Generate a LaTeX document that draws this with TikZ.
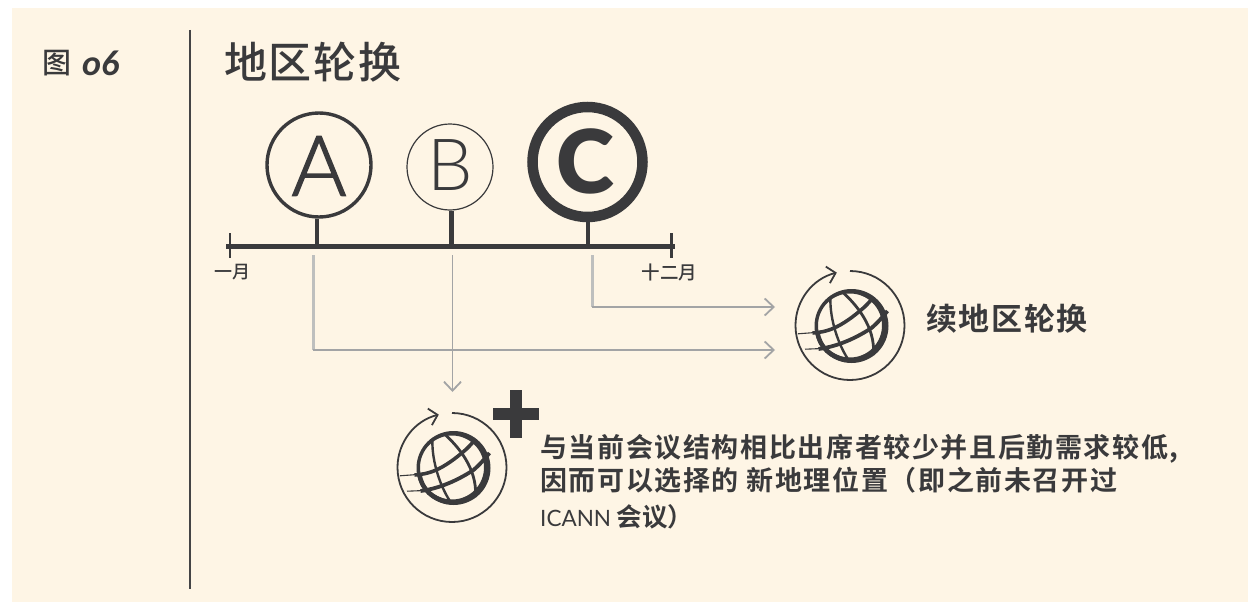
\documentclass[tikz,border=0pt]{standalone}
\usepackage{fontspec}
\usetikzlibrary{arrows.meta}
\setmainfont{Lato}
\newfontfamily\cjkM{Noto Sans CJK SC Bold}
\newfontfamily\cjkL{Noto Sans CJK SC Medium}
\newfontfamily\cjkT[LetterSpace=4]{Noto Sans CJK SC Medium}
\newfontfamily\cjkB[LetterSpace=6]{Noto Sans CJK SC Bold}
\newfontfamily\cjkC[LetterSpace=5.5]{Noto Sans CJK SC Bold}
\newfontfamily\latoL[FakeBold=1.6]{Lato Light}
\newfontfamily\latoH{Lato Light}
\newfontfamily\latoK{Lato Black}
\newfontfamily\figI[ItalicFont=*-Italic]{Carlito}
\definecolor{bgcream}{HTML}{FEF5E5}
\definecolor{ink}{HTML}{3A3A3C}
\definecolor{rule}{HTML}{444446}
\definecolor{pale}{HTML}{BEBFBE}
\definecolor{midg}{HTML}{A3A4A5}
\tikzset{
  lettercircle/.style={circle,draw=ink,inner sep=0pt,text=ink},
  stemline/.style={draw=ink,line cap=butt},
  chev/.style={-{Straight Barb[length=9pt,width=17pt,line width=1.8pt]}},
  bodytext/.style={anchor=west,inner sep=0pt,text=ink,font=\cjkB\fontsize{27}{27}\selectfont},
  globeicon/.pic={
    \draw[ink,line width=1.8pt,-{Straight Barb[length=8pt,width=17pt,line width=1.8pt]}]
      (0pt,-54pt) arc[start angle=-90,end angle=256,radius=54.5pt];
    \begin{scope}[shift={(1.5,1)}]
      \fill[ink,even odd rule] (0,0) circle[radius=37pt] (-1.5,-0.5) circle[radius=32pt];
      \draw[ink,line width=4.5pt] (-34,6) .. controls (-32,22) and (-20,31) .. (-6,34);
      \draw[ink,line width=3.6pt] (-39,7) .. controls (-25,6) and (-12,3) .. (13,-19) .. controls (16,-22) and (19,-25) .. (22,-29);
      \draw[ink,line width=3.8pt] (-33,23) .. controls (-18,21) and (0,15) .. (20,2) .. controls (26,-3) and (31,-9) .. (36,-15);
      \draw[ink,line width=2.4pt] (-21,-29) .. controls (-22,-12) and (-16,14) .. (-3,34);
      \draw[ink,line width=2.8pt] (-9,-34) .. controls (4,-22) and (24,0) .. (22,29);
    \end{scope}
    \draw[ink,line width=1.1pt] (-52,8.8) -- (-36,7.6);
    \draw[ink,line width=1.1pt] (-45,24.2) -- (-30,23.6);
  }
}
\begin{document}
\begin{tikzpicture}[x=1pt,y=1pt,yscale=-1]
\useasboundingbox (0,0) rectangle (1248,602);
\fill[white] (0,0) rectangle (1248,602);
\fill[bgcream] (12,8) rectangle (1248,602);
% side rule
\coordinate (ruletop) at (190,30);
\coordinate (rulebot) at (190,589);
\draw[rule,line width=2pt] (ruletop) -- (rulebot);
% headings
\node[anchor=west,inner sep=0pt,text=ink] (figzh) at (42,63) {\cjkL\fontsize{29}{29}\selectfont 图};
\node[anchor=west,inner sep=0pt,text=ink] (fignum) at (82,63) {\figI\itshape\bfseries\fontsize{36}{36}\selectfont o6};
\node[anchor=west,inner sep=0pt,text=ink] (title) at (224,62) {\cjkT\fontsize{43}{43}\selectfont 地区轮换};
% timeline
\coordinate (axL) at (226,246.5);
\coordinate (axR) at (675,246.5);
\draw[ink,line width=4.5pt] (axL) -- (axR);
\coordinate (tickLa) at (230,233); \coordinate (tickLb) at (230,258);
\coordinate (tickRa) at (671,233); \coordinate (tickRb) at (671,258);
\draw[ink,line width=1.5pt] (tickLa) -- (tickLb);
\draw[ink,line width=3pt] (tickRa) -- (tickRb);
\node[lettercircle,line width=3.4pt,minimum size=104pt] (nA) at (319,165) {};
\node[lettercircle,line width=1.2pt,minimum size=86pt] (nB) at (450,167) {};
\node[lettercircle,line width=10.5pt,minimum size=110pt] (nC) at (587.5,162) {};
\node[text=ink,inner sep=0pt] (lA) at (319,166) {\latoL\fontsize{84}{84}\selectfont A};
\node[text=ink,inner sep=0pt] (lB) at (450,165.5) {\latoH\fontsize{72}{72}\selectfont B};
\node[text=ink,inner sep=0pt] (lC) at (585,161) {\latoK\fontsize{88}{88}\selectfont C};
\coordinate (axA) at (317,246.5);
\coordinate (axB) at (451,246.5);
\coordinate (axC) at (587.5,246.5);
\draw[stemline,line width=4.5pt] (axA |- nA.south) -- (axA);
\draw[stemline,line width=5pt] (axB |- nB.south) -- (axB);
\draw[stemline,line width=4pt] (axC |- nC.south) -- (axC);
\node[inner sep=0pt,text=ink] (jan) at (232.5,272) {\cjkL\fontsize{18}{18}\selectfont 一月};
\node[inner sep=0pt,text=ink] (dec) at (669.5,272) {\cjkL\fontsize{18.5}{18.5}\selectfont 十二月};
% connectors
\coordinate (cAa) at (313,255); \coordinate (cAb) at (313,350); \coordinate (cAc) at (775,350);
\coordinate (cBa) at (452.5,255); \coordinate (cBc) at (452.5,392);
\coordinate (cCa) at (592,255); \coordinate (cCb) at (592,307); \coordinate (cCc) at (775,307);
\draw[pale,line width=3pt] (cAa) -- (cAb);
\draw[midg,line width=2.2pt,chev] (cAb) -- (cAc);
\draw[pale,line width=3pt] (cCa) -- (cCb);
\draw[midg,line width=2.2pt,chev] (cCb) -- (cCc);
\draw[midg,line width=1.8pt,chev] (cBa) -- (cBc);
% icons
\pic[transform shape] at (850,325) {globeicon};
\pic[transform shape] at (452,467) {globeicon};
% plus sign
\coordinate (plusL) at (493,414); \coordinate (plusR) at (539,414);
\coordinate (plusT) at (516,390); \coordinate (plusB) at (516,438);
\draw[ink,line width=12pt] (plusL) -- (plusR) (plusT) -- (plusB);
% texts
\node[anchor=west,inner sep=0pt,text=ink] (cont) at (926,319) {\cjkC\fontsize{31}{31}\selectfont 续地区轮换};
\node[bodytext] (l1) at (540,449) {与当前会议结构相比出席者较少并且后勤需求较低,};
\node[bodytext] (l2) at (540,480) {因而可以选择的 新地理位置（即之前未召开过};
\node[bodytext,font=\cjkM\fontsize{25.5}{25.5}\selectfont] (l3) at (540,517) {{\rmfamily\fontsize{22.5}{22.5}\selectfont ICANN} 会议）};
\end{tikzpicture}
\end{document}
